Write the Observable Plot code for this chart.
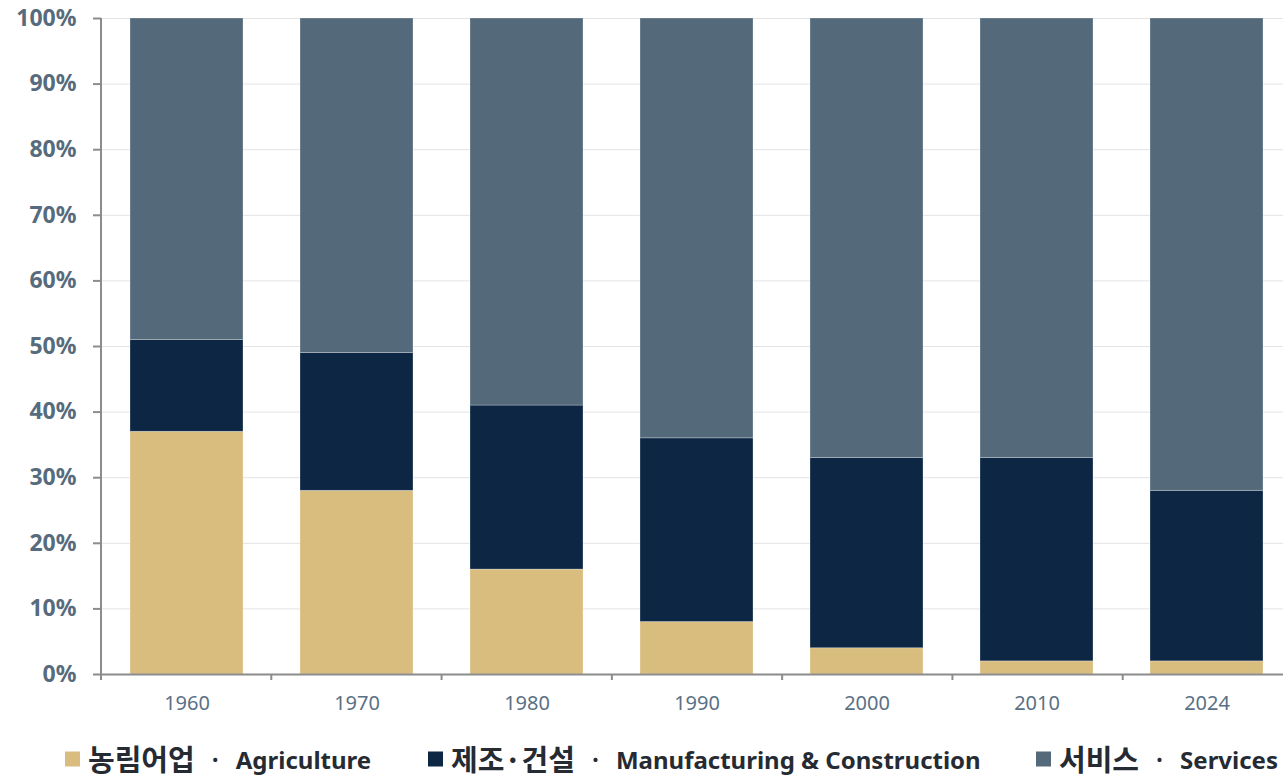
<!DOCTYPE html>
<html>
<head>
<meta charset="utf-8">
<script src="https://cdn.jsdelivr.net/npm/d3@7"></script>
<script src="https://cdn.jsdelivr.net/npm/@observablehq/plot@0.6"></script>
<style>
  html, body { margin: 0; padding: 0; background: #ffffff; overflow: hidden; }
  #chart { width: 1283px; height: 720px; overflow: hidden; }
  #chart svg { display: block; max-width: none !important; }
  .legend { position: relative; height: 59px; font-family: "Noto Sans CJK KR", "Noto Sans", sans-serif; color: #262b33; font-weight: bold; white-space: nowrap; }
  .item { display: flex; align-items: center; position: absolute; top: 37.5px; transform: translateY(-50%); line-height: 1; }
  .sw { width: 15px; height: 15px; margin-right: 8px; margin-top: 3px; }
  .ko { font-size: 29px; line-height: 1; display: inline-block; }
  .dot { font-size: 22px; margin: 0 14px 0 14px; }
  .en { font-family: "Noto Sans", sans-serif; font-size: 24px; line-height: 1; margin-top: 3px; }
</style>
</head>
<body>
<div id="chart"></div>
<div class="legend" id="legend"></div>
<script>
const years = ["1960", "1970", "1980", "1990", "2000", "2010", "2024"];
const agriculture = [37, 28, 16, 8, 4, 2, 2];
const manufacturing = [14, 21, 25, 28, 29, 31, 26];
const services = [49, 51, 59, 64, 67, 67, 72];
const sectorKo = ["농림어업", "제조·건설", "서비스"];
const sectorEn = ["Agriculture", "Manufacturing & Construction", "Services"];
const sectorColors = ["#d9bd7e", "#0c2644", "#546a7b"];
const yTicks = [0, 10, 20, 30, 40, 50, 60, 70, 80, 90, 100];
const legendLeft = [65, 428, 1036];

const seriesValues = [agriculture, manufacturing, services];
const rows = [];
seriesValues.forEach((vals, s) => {
  years.forEach((y, i) => rows.push({year: y, sector: sectorEn[s], value: vals[i]}));
});

const chart = Plot.plot({
  width: 1293,
  height: 720,
  marginTop: 18,
  marginBottom: 46,
  marginLeft: 101,
  marginRight: 0,
  style: {fontFamily: "'Noto Sans', sans-serif", background: "#ffffff", maxWidth: "none"},
  x: {domain: years, paddingInner: 0.335, paddingOuter: 0.1675, label: null},
  y: {domain: [0, 100], label: null},
  color: {domain: sectorEn, range: sectorColors},
  marks: [
    Plot.gridY(yTicks, {stroke: "#e3e3e3", strokeOpacity: 1}),
    Plot.barY(rows, {x: "year", y: "value", fill: "sector", stroke: "#ffffff", strokeOpacity: 0.35, strokeWidth: 0.75}),
    Plot.axisY(yTicks, {tickSize: 8, tickPadding: 17, tickFormat: d => d + "%", fontSize: 23, fontWeight: "bold", fill: "#566b7d", stroke: "#8c8c8c", strokeWidth: 2}),
    Plot.axisX({tickSize: 0, tickPadding: 21, fontSize: 20, fill: "#5a7085"}),
    Plot.ruleY([0], {stroke: "#8c8c8c", strokeWidth: 2})
  ]
});
chart.style.maxWidth = "none";
chart.style.width = "1293px";
chart.style.height = "720px";

// axis line on the left and category boundary ticks, from the scales
const xs = chart.scale("x");
const ys = chart.scale("y");
const x0 = xs.range[0], x1 = xs.range[1];
const step = (x1 - x0) / years.length;
const yBottom = ys.apply(0), yTop = ys.apply(100);
const svg = d3.select(chart);
svg.append("line").attr("x1", x0).attr("x2", x0).attr("y1", yTop).attr("y2", yBottom + 6)
  .attr("stroke", "#8c8c8c").attr("stroke-width", 2);
for (let k = 1; k <= years.length; k++) {
  const bx = x0 + k * step;
  svg.append("line").attr("x1", bx).attr("x2", bx).attr("y1", yBottom).attr("y2", yBottom + 6)
    .attr("stroke", "#8c8c8c").attr("stroke-width", 2);
}
document.getElementById("chart").appendChild(chart);

const legend = document.getElementById("legend");
sectorKo.forEach((ko, i) => {
  const it = document.createElement("div");
  it.className = "item";
  it.style.left = legendLeft[i] + "px";
  it.innerHTML = `<span class="sw" style="background:${sectorColors[i]}"></span><span class="ko">${ko}</span><span class="dot">·</span><span class="en">${sectorEn[i]}</span>`;
  legend.appendChild(it);
});
</script>
</body>
</html>
